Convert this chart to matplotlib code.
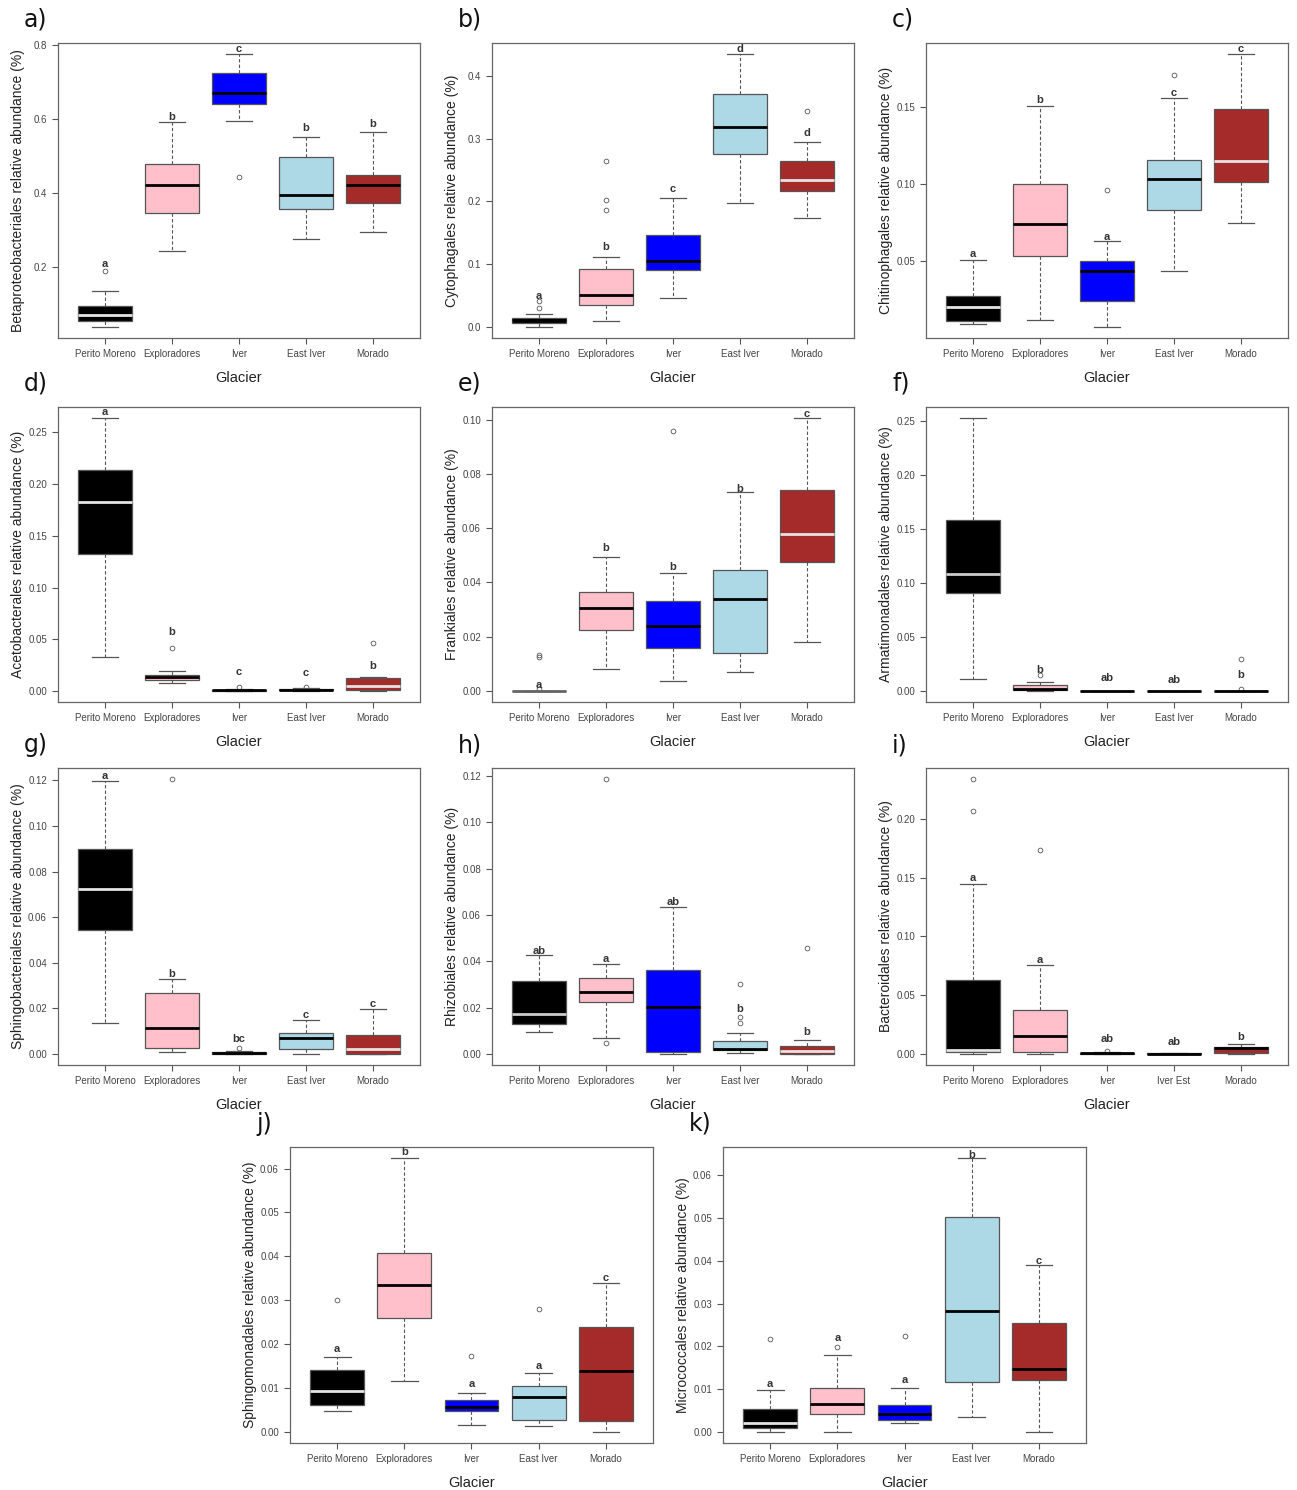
import numpy as np
import matplotlib
matplotlib.use("Agg")
import matplotlib.pyplot as plt

plt.rcParams['font.family'] = ['Liberation Sans', 'DejaVu Sans']

glaciers = ["Perito Moreno", "Exploradores", "Iver", "East Iver", "Morado"]
glaciers_i = ["Perito Moreno", "Exploradores", "Iver", "Iver Est", "Morado"]
box_colors = ["#000000", "#FFC0CB", "#0000FF", "#ADD8E6", "#A52A2A"]

# each row: whisker low, Q1, median, Q3, whisker high (one row per glacier)
beta_stats = [[0.036, 0.053, 0.070, 0.094, 0.135], [0.241, 0.346, 0.420, 0.477, 0.592],
              [0.594, 0.641, 0.669, 0.725, 0.776], [0.274, 0.356, 0.393, 0.496, 0.552],
              [0.293, 0.371, 0.420, 0.449, 0.565]]
beta_out = [[0.188], [], [0.443], [], []]
beta_letters = ["a", "b", "c", "b", "b"]
beta_letter_y = [0.208, 0.606, 0.788, 0.576, 0.586]

cyto_stats = [[0.0, 0.006, 0.0105, 0.015, 0.0207], [0.009, 0.035, 0.051, 0.092, 0.112],
              [0.0456, 0.0907, 0.106, 0.146, 0.206], [0.197, 0.276, 0.319, 0.371, 0.435],
              [0.1735, 0.2175, 0.2345, 0.265, 0.294]]
cyto_out = [[0.030, 0.041], [0.186, 0.202, 0.265], [], [], [0.344]]
cyto_letters = ["a", "b", "c", "d", "d"]
cyto_letter_y = [0.050, 0.128, 0.220, 0.4435, 0.309]

chit_stats = [[0.0091, 0.0109, 0.020, 0.0272, 0.0509], [0.0113, 0.0535, 0.0743, 0.1004, 0.1509],
              [0.0070, 0.0237, 0.0433, 0.0502, 0.0628], [0.0437, 0.0835, 0.1033, 0.1157, 0.1559],
              [0.0748, 0.1013, 0.1154, 0.1491, 0.1848]]
chit_out = [[], [], [0.0965], [0.1713], []]
chit_letters = ["a", "b", "a", "c", "c"]
chit_letter_y = [0.0548, 0.155, 0.0657, 0.1591, 0.1878]

acet_stats = [[0.0325, 0.1322, 0.1824, 0.2133, 0.2638], [0.008, 0.011, 0.0135, 0.0155, 0.0193],
              [0.0, 0.0003, 0.0008, 0.0012, 0.002], [0.0, 0.0008, 0.0013, 0.002, 0.0025],
              [0.0, 0.001, 0.0045, 0.0122, 0.0138]]
acet_out = [[], [0.0418], [0.0039], [0.0035], [0.0463]]
acet_letters = ["a", "b", "c", "c", "b"]
acet_letter_y = [0.270, 0.057, 0.018, 0.017, 0.0245]

fran_stats = [[0.0, 0.0, 0.0, 0.0, 0.0], [0.0082, 0.0226, 0.0306, 0.0366, 0.0495],
              [0.0038, 0.016, 0.0238, 0.0333, 0.0435], [0.0071, 0.0141, 0.0339, 0.0446, 0.0732],
              [0.0181, 0.0474, 0.0577, 0.0742, 0.1006]]
fran_out = [[0.0008, 0.0124, 0.0133], [], [0.0959], [], []]
fran_letters = ["a", "b", "b", "b", "c"]
fran_letter_y = [0.0022, 0.0526, 0.0456, 0.0746, 0.102]

arma_stats = [[0.0114, 0.0906, 0.1088, 0.1581, 0.2528], [0.0, 0.0006, 0.0018, 0.0052, 0.0083],
              [0.0, 0.0, 0.0, 0.0, 0.0], [0.0, 0.0, 0.0, 0.0, 0.0],
              [0.0, 0.0, 0.0, 0.0, 0.0]]
arma_out = [[], [0.0148], [], [], [0.0015, 0.0293]]
arma_letters = ["", "b", "ab", "ab", "b"]
arma_letter_y = [0.0, 0.0194, 0.012, 0.010, 0.0148]

sbac_stats = [[0.0135, 0.0543, 0.0722, 0.090, 0.1197], [0.0007, 0.0028, 0.0116, 0.0268, 0.0329],
              [0.0, 0.0, 0.0003, 0.0008, 0.0012], [0.0, 0.0022, 0.0072, 0.009, 0.015],
              [0.0, 0.0001, 0.0024, 0.0084, 0.0196]]
sbac_out = [[], [0.1206], [0.0028], [], []]
sbac_letters = ["a", "b", "bc", "c", "c"]
sbac_letter_y = [0.1219, 0.0351, 0.0066, 0.0172, 0.0219]

rhiz_stats = [[0.0096, 0.013, 0.0174, 0.0314, 0.0426], [0.0071, 0.0223, 0.0268, 0.033, 0.0388],
              [0.0, 0.0007, 0.0201, 0.0364, 0.0636], [0.0006, 0.0016, 0.002, 0.0058, 0.009],
              [0.0, 0.0, 0.0012, 0.0036, 0.0061]]
rhiz_out = [[], [0.0046, 0.1187], [], [0.0135, 0.0161, 0.0303], [0.0457]]
rhiz_letters = ["ab", "a", "ab", "b", "b"]
rhiz_letter_y = [0.0443, 0.0409, 0.0654, 0.0194, 0.0097]

bact_stats = [[0.0, 0.0014, 0.0031, 0.0633, 0.1443], [0.0, 0.0014, 0.0157, 0.0374, 0.0759],
              [0.0, 0.0, 0.0005, 0.0012, 0.0015], [0.0, 0.0, 0.0002, 0.0005, 0.0006],
              [0.0, 0.0011, 0.0048, 0.0063, 0.0086]]
bact_out = [[0.2065, 0.2339], [0.1737], [0.0023], [], []]
bact_letters = ["a", "a", "ab", "ab", "b"]
bact_letter_y = [0.1497, 0.0799, 0.0126, 0.0106, 0.0143]

smon_stats = [[0.0048, 0.0062, 0.0094, 0.0141, 0.0170], [0.0116, 0.026, 0.0334, 0.0408, 0.0624],
              [0.0017, 0.0047, 0.0057, 0.0072, 0.0088], [0.0014, 0.0027, 0.0079, 0.0105, 0.0135],
              [0.0, 0.0025, 0.014, 0.024, 0.034]]
smon_out = [[0.030], [], [0.0173], [0.0279], []]
smon_letters = ["a", "b", "a", "a", "c"]
smon_letter_y = [0.0189, 0.0637, 0.011, 0.0151, 0.035]

micr_stats = [[0.0, 0.0009, 0.002, 0.0053, 0.0099], [0.0, 0.0041, 0.0065, 0.0103, 0.018],
              [0.0021, 0.0029, 0.0041, 0.0062, 0.0104], [0.0034, 0.0117, 0.0282, 0.0502, 0.064],
              [0.0, 0.0121, 0.0148, 0.0254, 0.039]]
micr_out = [[0.0217], [0.0198], [0.0225], [], []]
micr_letters = ["a", "a", "a", "b", "c"]
micr_letter_y = [0.0112, 0.022, 0.0121, 0.0647, 0.040]

W = "#e4e4e4"
K = "#000000"

panels = [
    dict(tag="a)", name="Betaproteobacteriales", stats=beta_stats, out=beta_out,
         letters=beta_letters, ly=beta_letter_y, ticks=[0.2, 0.4, 0.6, 0.8], dec=1,
         med=[W, K, K, K, K], rect=(58, 43, 420, 338)),
    dict(tag="b)", name="Cytophagales", stats=cyto_stats, out=cyto_out,
         letters=cyto_letters, ly=cyto_letter_y, ticks=[0.0, 0.1, 0.2, 0.3, 0.4], dec=1,
         med=[K, K, K, K, W], rect=(492, 43, 854, 338)),
    dict(tag="c)", name="Chitinophagales", stats=chit_stats, out=chit_out,
         letters=chit_letters, ly=chit_letter_y, ticks=[0.05, 0.10, 0.15], dec=2,
         med=[W, K, K, K, W], rect=(926, 43, 1288, 338)),
    dict(tag="d)", name="Acetobacterales", stats=acet_stats, out=acet_out,
         letters=acet_letters, ly=acet_letter_y, ticks=[0, 0.05, 0.10, 0.15, 0.20, 0.25], dec=2,
         med=[W, K, K, K, W], rect=(58, 407, 420, 702)),
    dict(tag="e)", name="Frankiales", stats=fran_stats, out=fran_out,
         letters=fran_letters, ly=fran_letter_y, ticks=[0, 0.02, 0.04, 0.06, 0.08, 0.10], dec=2,
         med=["#666666", K, K, K, W], rect=(492, 407, 854, 702)),
    dict(tag="f)", name="Armatimonadales", stats=arma_stats, out=arma_out,
         letters=arma_letters, ly=arma_letter_y, ticks=[0, 0.05, 0.10, 0.15, 0.20, 0.25], dec=2,
         med=["#cccccc", K, K, K, K], rect=(926, 407, 1288, 702)),
    dict(tag="g)", name="Sphingobacteriales", stats=sbac_stats, out=sbac_out,
         letters=sbac_letters, ly=sbac_letter_y, ticks=[0, 0.02, 0.04, 0.06, 0.08, 0.10, 0.12], dec=2,
         med=[W, K, K, K, W], rect=(58, 768, 420, 1065)),
    dict(tag="h)", name="Rhizobiales", stats=rhiz_stats, out=rhiz_out,
         letters=rhiz_letters, ly=rhiz_letter_y, ticks=[0, 0.02, 0.04, 0.06, 0.08, 0.10, 0.12], dec=2,
         med=["#cccccc", K, K, K, W], rect=(492, 768, 854, 1065)),
    dict(tag="i)", name="Bacteroidales", stats=bact_stats, out=bact_out,
         letters=bact_letters, ly=bact_letter_y, ticks=[0, 0.05, 0.10, 0.15, 0.20], dec=2,
         med=[W, K, K, K, K], rect=(926, 768, 1288, 1065), xlabels=glaciers_i),
    dict(tag="j)", name="Sphingomonadales", stats=smon_stats, out=smon_out,
         letters=smon_letters, ly=smon_letter_y, ticks=[0, 0.01, 0.02, 0.03, 0.04, 0.05, 0.06], dec=2,
         med=[W, K, K, K, K], rect=(290, 1147, 653, 1443)),
    dict(tag="k)", name="Micrococcales", stats=micr_stats, out=micr_out,
         letters=micr_letters, ly=micr_letter_y, ticks=[0, 0.01, 0.02, 0.03, 0.04, 0.05, 0.06], dec=2,
         med=[W, K, K, K, K], rect=(723, 1147, 1086, 1443)),
]

FW, FH = 1297, 1490
EDGE = "#555555"


def draw_panel(fig, p):
    x0, y0, x1, y1 = p["rect"]
    ax = fig.add_axes([x0 / FW, 1 - y1 / FH, (x1 - x0) / FW, (y1 - y0) / FH])
    pos = np.arange(1, 6)

    bstats = []
    for (lo, q1, med, q3, hi), fl in zip(p["stats"], p["out"]):
        bstats.append(dict(whislo=lo, q1=q1, med=med, q3=q3, whishi=hi, fliers=fl))

    bp = ax.bxp(bstats, positions=pos, widths=0.8, capwidths=0.4, patch_artist=True,
                boxprops=dict(edgecolor=EDGE, linewidth=0.9),
                whiskerprops=dict(color=EDGE, linewidth=0.8, linestyle=(0, (3, 2))),
                capprops=dict(color=EDGE, linewidth=0.9),
                medianprops=dict(linewidth=2.0, solid_capstyle="butt"),
                flierprops=dict(marker="o", markersize=3.4, markerfacecolor="none",
                                markeredgecolor=EDGE, markeredgewidth=0.6, linestyle="none"))
    for box, col in zip(bp["boxes"], box_colors):
        box.set_facecolor(col)
    for line, col in zip(bp["medians"], p["med"]):
        line.set_color(col)

    # R-style range: data extent padded by 4 % on each side
    vals = [v for row in p["stats"] for v in row] + [v for fl in p["out"] for v in fl]
    lo, hi = min(vals), max(vals)
    pad = 0.04 * (hi - lo)
    ax.set_ylim(lo - pad, hi + pad)
    ax.set_xlim(0.3, 5.7)

    ax.set_yticks(p["ticks"])
    ax.set_yticklabels([f"{t:.{p['dec']}f}" for t in p["ticks"]])
    ax.set_xticks(pos)
    ax.set_xticklabels(p.get("xlabels", glaciers))
    ax.tick_params(direction="out", length=4, width=0.8, color=EDGE,
                   labelsize=7, labelcolor="#444444", pad=4)
    for sp in ax.spines.values():
        sp.set_color("#666666")
        sp.set_linewidth(0.9)

    for x, let, y in zip(pos, p["letters"], p["ly"]):
        if let:
            ax.text(x, y, let, ha="center", va="center", fontsize=8, fontweight="bold",
                    color="#333333", clip_on=True)

    w_px, h_px = x1 - x0, y1 - y0
    ax.text(-40 / w_px, 0.5, p["name"] + " relative abundance (%)", rotation=90,
            ha="center", va="center", fontsize=10, color="#222222", transform=ax.transAxes)
    ax.text(0.5, -40 / h_px, "Glacier", ha="center", va="center", fontsize=10.5,
            color="#222222", transform=ax.transAxes)
    ax.text(-34 / w_px, 1 + 23 / h_px, p["tag"], ha="left", va="center", fontsize=17,
            family="DejaVu Sans", color="#111111", transform=ax.transAxes)
    return ax


fig = plt.figure(figsize=(FW / 100, FH / 100), dpi=100)
for p in panels:
    draw_panel(fig, p)

fig.savefig("out.png", dpi=100, facecolor="white")
